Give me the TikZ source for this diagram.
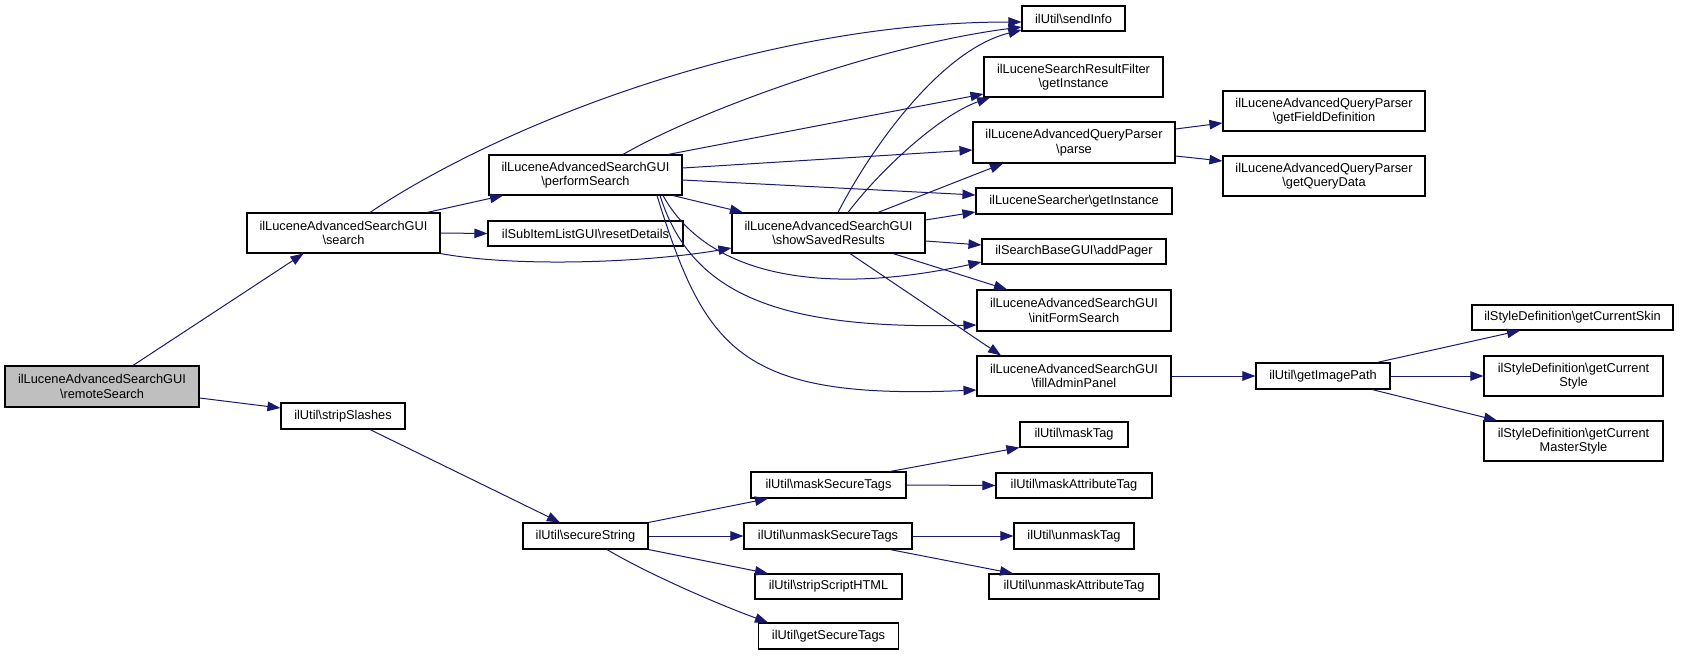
\documentclass[tikz,border=0pt]{standalone}
\usepackage{fontspec}
\setmainfont{Liberation Sans}
\usetikzlibrary{arrows.meta}
\definecolor{edgeblue}{HTML}{191970}
\definecolor{focusgray}{HTML}{BFBFBF}
\newcommand{\bsl}{\textbackslash}
\begin{document}
\begin{tikzpicture}[x=1pt,y=-1pt,
  box/.style={draw=black, fill=white, line width=1.1pt, inner sep=0pt, align=center,
    font=\fontsize{12.8pt}{14.5pt}\selectfont},
  edge/.style={draw=edgeblue, line width=1pt, -{Triangle[length=13pt,width=9.5pt]}}]
\useasboundingbox (0,0) rectangle (1681,656);

% nodes
\node[box, fill=focusgray, minimum width=194pt, minimum height=41pt] (rs) at (102,386.5) {ilLuceneAdvancedSearchGUI\\\bsl remoteSearch};
\node[box, minimum width=193pt, minimum height=40pt] (se) at (343.5,233) {ilLuceneAdvancedSearchGUI\\\bsl search};
\node[box, minimum width=193pt, minimum height=40pt] (ps) at (585.5,175) {ilLuceneAdvancedSearchGUI\\\bsl performSearch};
\node[box, minimum width=195pt, minimum height=25pt] (rd) at (585.5,233.5) {ilSubItemListGUI\bsl resetDetails};
\node[box, minimum width=193pt, minimum height=40pt] (ssr) at (828.5,233) {ilLuceneAdvancedSearchGUI\\\bsl showSavedResults};
\node[box, minimum width=103pt, minimum height=25pt] (si) at (1073.5,18.5) {ilUtil\bsl sendInfo};
\node[box, minimum width=179pt, minimum height=40pt] (gi) at (1073.5,77) {ilLuceneSearchResultFilter\\\bsl getInstance};
\node[box, minimum width=202pt, minimum height=41pt] (pa) at (1074,142.5) {ilLuceneAdvancedQueryParser\\\bsl parse};
\node[box, minimum width=196pt, minimum height=26pt] (ls) at (1074,201) {ilLuceneSearcher\bsl getInstance};
\node[box, minimum width=184pt, minimum height=25pt] (ap) at (1074,251.5) {ilSearchBaseGUI\bsl addPager};
\node[box, minimum width=194pt, minimum height=41pt] (ifs) at (1074,310.5) {ilLuceneAdvancedSearchGUI\\\bsl initFormSearch};
\node[box, minimum width=194pt, minimum height=40pt] (fap) at (1074,376) {ilLuceneAdvancedSearchGUI\\\bsl fillAdminPanel};
\node[box, minimum width=202pt, minimum height=40pt] (gfd) at (1324,111) {ilLuceneAdvancedQueryParser\\\bsl getFieldDefinition};
\node[box, minimum width=202pt, minimum height=40pt] (gqd) at (1324,176) {ilLuceneAdvancedQueryParser\\\bsl getQueryData};
\node[box, minimum width=134pt, minimum height=26pt] (gip) at (1323,376) {ilUtil\bsl getImagePath};
\node[box, minimum width=201pt, minimum height=25pt] (gcs) at (1572.5,317.5) {ilStyleDefinition\bsl getCurrentSkin};
\node[box, minimum width=179pt, minimum height=40pt] (gcst) at (1573.5,376) {ilStyleDefinition\bsl getCurrent\\Style};
\node[box, minimum width=179pt, minimum height=40pt] (gcms) at (1573.5,441) {ilStyleDefinition\bsl getCurrent\\MasterStyle};
\node[box, minimum width=124pt, minimum height=26pt] (ss) at (343,416) {ilUtil\bsl stripSlashes};
\node[box, minimum width=125pt, minimum height=26pt] (sec) at (585.5,536) {ilUtil\bsl secureString};
\node[box, minimum width=155pt, minimum height=26pt] (mst) at (828.5,485) {ilUtil\bsl maskSecureTags};
\node[box, minimum width=168pt, minimum height=26pt] (ust) at (828,536) {ilUtil\bsl unmaskSecureTags};
\node[box, minimum width=147pt, minimum height=25pt] (ssh) at (828.5,586.5) {ilUtil\bsl stripScriptHTML};
\node[box, minimum width=140pt, minimum height=26pt] (gst) at (828.5,636) {ilUtil\bsl getSecureTags};
\node[box, minimum width=108pt, minimum height=25pt] (mt) at (1074,434.5) {ilUtil\bsl maskTag};
\node[box, minimum width=156pt, minimum height=25pt] (mat) at (1074,485.5) {ilUtil\bsl maskAttributeTag};
\node[box, minimum width=120pt, minimum height=26pt] (ut) at (1074,536) {ilUtil\bsl unmaskTag};
\node[box, minimum width=170pt, minimum height=25pt] (uat) at (1074,586.5) {ilUtil\bsl unmaskAttributeTag};

% edges
\draw[edge] ([xshift=31pt]rs.north) -- ([xshift=-40pt]se.south);
\draw[edge] ([yshift=-11.5pt]rs.east) -- ([yshift=8pt]ss.west);
\draw[edge] ([xshift=83.5pt]se.north) -- ([xshift=-82.5pt]ps.south);
\draw[edge] (se.east) -- (rd.west);
\draw[edge] ([xshift=26.5pt]se.north) .. controls (500,125) and (760,22) .. ([yshift=-3.5pt]si.west);
\draw[edge] (se.south east) .. controls (520,268) and (650,262) .. ([yshift=-15pt]ssr.west);
\draw[edge] ([xshift=37.5pt]ps.north) .. controls (700,110) and (880,45) .. ([yshift=-8.5pt]si.west);
\draw[edge] ([xshift=82.5pt]ps.north) -- ([yshift=-17pt]gi.west);
\draw[edge] ([yshift=7pt]ps.east) -- ([yshift=-7.5pt]pa.west);
\draw[edge] ([yshift=-5pt]ps.east) -- ([yshift=6pt]ls.west);
\draw[edge] ([xshift=87.5pt]ps.south) -- ([xshift=-85.5pt]ssr.north);
\draw[edge] ([xshift=77.5pt]ps.south) .. controls (710,280) and (830,295) .. ([yshift=-10.5pt]ap.west);
\draw[edge] ([xshift=74.5pt]ps.south) .. controls (690,290) and (770,330) .. ([yshift=-14.5pt]ifs.west);
\draw[edge] ([xshift=71.5pt]ps.south) .. controls (705,350) and (740,400) .. ([yshift=-14pt]fap.west);
\draw[edge] ([xshift=9.5pt]ssr.north) .. controls (870,150) and (940,50) .. ([yshift=-11.5pt]si.west);
\draw[edge] ([xshift=19.5pt]ssr.north) .. controls (880,170) and (940,115) .. ([xshift=-83.5pt]gi.south);
\draw[edge] ([xshift=49.5pt]ssr.north) -- ([xshift=-71pt]pa.south);
\draw[edge] ([yshift=13pt]ssr.east) -- ([yshift=-11pt]ls.west);
\draw[edge] ([yshift=-8pt]ssr.east) -- ([yshift=6.5pt]ap.west);
\draw[edge] ([xshift=64.5pt]ssr.south) -- ([xshift=-67pt]ifs.north);
\draw[edge] ([xshift=21.5pt]ssr.south) -- ([xshift=-73pt]fap.north);
\draw[edge] ([yshift=13.5pt]pa.east) -- ([yshift=-12pt]gfd.west);
\draw[edge] ([yshift=-13.5pt]pa.east) -- ([yshift=15pt]gqd.west);
\draw[edge] (fap.east) -- (gip.west);
\draw[edge] ([xshift=54pt]gip.north) -- ([xshift=-52.5pt]gcs.south);
\draw[edge] (gip.east) -- (gcst.west);
\draw[edge] ([xshift=49pt]gip.south) -- ([xshift=-76.5pt]gcms.north);
\draw[edge] ([xshift=27pt]ss.south) -- ([xshift=-25.5pt]sec.north);
\draw[edge] (sec.north east) -- ([xshift=-60.5pt]mst.south);
\draw[edge] (sec.east) -- (ust.west);
\draw[edge] (sec.south east) -- ([xshift=-60.5pt]ssh.north);
\draw[edge] ([xshift=21.5pt]sec.south) .. controls (650,575) and (720,605) .. ([xshift=-60.5pt]gst.north);
\draw[edge] ([xshift=61.5pt]mst.north) -- (mt.south west);
\draw[edge] (mst.east) -- (mat.west);
\draw[edge] (ust.east) -- (ut.west);
\draw[edge] ([xshift=62pt]ust.south) -- ([xshift=-61pt]uat.north);
\end{tikzpicture}
\end{document}
